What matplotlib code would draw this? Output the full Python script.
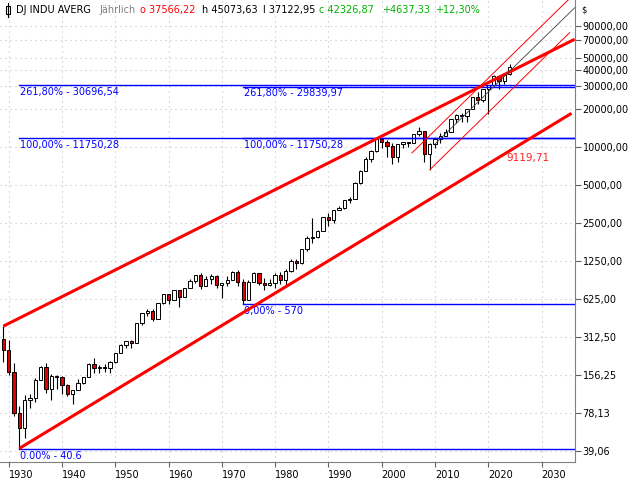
"""
DJ INDU AVERG yearly candles on a log price axis, with fib levels and trend channels
"""
import matplotlib.pyplot as plt
from matplotlib.patches import Rectangle
from matplotlib.lines import Line2D
import numpy as np

# yearly OHLC
years = list(range(1929, 2025))
closes = [248.48, 164.58, 77.90, 59.93, 99.90, 104.04, 144.13, 179.90, 120.85, 154.76,
          150.24, 131.13, 110.96, 119.40, 135.89, 152.32, 192.91, 177.20, 181.16, 177.30,
          200.13, 235.41, 269.23, 291.90, 280.90, 404.39, 488.40, 499.47, 435.69, 583.65,
          679.36, 615.89, 731.14, 652.10, 762.95, 874.13, 969.26, 785.69, 905.11, 943.75,
          800.36, 838.92, 890.20, 1020.02, 850.86, 616.24, 852.41, 1004.65, 831.17, 805.01,
          838.74, 963.99, 875.00, 1046.54, 1258.64, 1211.57, 1546.67, 1895.95, 1938.83, 2168.57,
          2753.20, 2633.66, 3168.83, 3301.11, 3754.09, 3834.44, 5117.12, 6448.27, 7908.25, 9181.43,
          11497.12, 10786.85, 10021.50, 8341.63, 10453.92, 10783.01, 10717.50, 12463.15, 13264.82, 8776.39,
          10428.05, 11577.51, 12217.56, 13104.14, 16576.66, 17823.07, 17425.03, 19762.60, 24719.22, 23327.46,
          28538.44, 30606.48, 36338.30, 33147.25, 37689.54, 42326.87]
opens = [300.00] + closes[:-2] + [37566.22]
highs = [381.17, 294.07, 194.36, 88.78, 108.67, 110.74, 148.44, 184.90, 194.40, 158.41,
         155.92, 152.80, 133.59, 119.71, 145.82, 152.53, 195.82, 212.50, 186.85, 193.16,
         200.52, 235.47, 276.37, 292.00, 293.79, 404.39, 488.40, 521.05, 520.77, 583.65,
         679.36, 685.47, 734.91, 734.00, 767.21, 891.71, 969.26, 995.15, 943.08, 985.21,
         968.85, 842.00, 950.82, 1036.27, 1051.70, 891.66, 881.81, 1014.79, 1004.65, 907.74,
         897.61, 1000.17, 1024.05, 1070.55, 1287.20, 1286.64, 1553.10, 1955.57, 2722.42, 2183.50,
         2791.41, 2999.75, 3168.83, 3413.21, 3794.33, 3978.36, 5216.47, 6560.91, 8259.31, 9374.27,
         11568.77, 11750.28, 11337.92, 10635.25, 10453.92, 10854.54, 10940.55, 12510.57, 14198.10, 13279.54,
         10580.33, 11625.00, 12876.00, 13661.87, 16588.25, 18103.45, 18351.36, 19987.63, 24876.07, 26951.81,
         28701.66, 30637.47, 36565.73, 36952.65, 37778.85, 45073.63]
lows = [198.69, 157.51, 73.79, 40.60, 50.16, 85.51, 96.71, 143.11, 113.64, 98.95,
        121.44, 111.84, 106.34, 92.92, 119.26, 134.22, 151.35, 163.12, 163.21, 165.39,
        161.60, 196.81, 235.00, 256.35, 255.49, 279.87, 388.20, 462.35, 419.79, 435.00,
        574.46, 566.05, 610.25, 535.76, 646.79, 762.00, 840.59, 744.32, 786.41, 825.13,
        769.93, 631.16, 797.97, 889.15, 788.31, 570.00, 616.00, 852.00, 800.85, 742.12,
        796.67, 759.13, 824.01, 776.92, 1027.04, 1086.57, 1184.96, 1502.29, 1738.74, 1879.14,
        2144.64, 2365.10, 2470.30, 3136.58, 3241.95, 3593.35, 3832.08, 5032.94, 6391.69, 7539.07,
        9120.67, 9796.03, 8235.81, 7286.27, 7524.06, 9749.99, 10012.36, 10667.39, 12050.41, 7552.29,
        6547.05, 9686.48, 10655.30, 12101.46, 13104.14, 15372.80, 15666.44, 15660.18, 19732.40, 21792.20,
        22638.41, 18213.65, 29982.62, 28725.51, 31429.82, 37122.95]

# fibonacci retracements (start year, levels, labels)
fib1_start = 1932
fib1_levels = [40.6, 11750.28, 30696.54]
fib1_labels = ['0.00% - 40.6', '100,00% - 11750,28', '261,80% - 30696,54']
fib2_start = 1974
fib2_levels = [570, 11750.28, 29839.97]
fib2_labels = ['0,00% - 570', '100,00% - 11750,28', '261,80% - 29839,97']

# trend lines as (year, price) anchors
upper_trend = [(1929, 381.17), (2036.2, 70500)]
lower_trend = [(1932, 41.22), (2035.6, 18320)]
chan_low = [(2009, 6547.05), (2035.3, 79900)]
chan_high = [(2005.6, 8850), (2036.2, 162000)]
chan_mid = [(2010.0, 10500), (2036.2, 125000)]
lower_trend_value = 9119.71

yticks = [39.06, 78.13, 156.25, 312.50, 625, 1250, 2500, 5000, 10000, 20000,
          30000, 40000, 50000, 70000, 90000]
xticks = list(range(1930, 2031, 10))

plt.rcParams['font.family'] = 'DejaVu Sans'
fig = plt.figure(figsize=(6.4, 4.8), dpi=100, facecolor='white')
ax = fig.add_axes([0, 18 / 480, 575 / 640, 462 / 480])
ax.set_yscale('log')
ax.set_xlim(1928.38, 2036.26)
ax.set_ylim(32.2, 144000)

# grid
for yv in yticks:
    ax.axhline(yv, color='#c0c0c0', lw=0.8, ls=(0, (1, 3.5)), zorder=0)
for xv in xticks:
    ax.axvline(xv, color='#c0c0c0', lw=0.8, ls=(0, (1, 3.5)), zorder=0)

# candles
for yr, o, h, l, c in zip(years, opens, highs, lows, closes):
    hi = max(h, o, c)
    lo = min(l, o, c)
    ax.vlines(yr, lo, hi, color='black', lw=0.8, zorder=3)
    fc = 'white' if c >= o else '#e00000'
    ax.bar(yr, abs(c - o), bottom=min(o, c), width=0.62, facecolor=fc,
           edgecolor='black', lw=0.7, zorder=4)

# fib levels
for start, levels, labels in [(fib1_start, fib1_levels, fib1_labels),
                              (fib2_start, fib2_levels, fib2_labels)]:
    for lv, lab in zip(levels, labels):
        ax.plot([start, 2036.26], [lv, lv], color='#0000ff', lw=1.0, zorder=5)
        ax.annotate(lab, xy=(start, lv), xytext=(0.5, -5), textcoords='offset points',
                    ha='left', va='center', fontsize=7, color='#0000ff')

# trend lines
for pts, lw in [(upper_trend, 2.2), (lower_trend, 2.2), (chan_low, 0.7), (chan_high, 0.7)]:
    xs, ys = zip(*pts)
    ax.plot(xs, ys, color='#ff0000', lw=lw, zorder=6, solid_capstyle='butt')
xs, ys = zip(*chan_mid)
ax.plot(xs, ys, color='#404040', lw=0.6, zorder=6)
ax.text(2023.4, 8130, f'{lower_trend_value:.2f}'.replace('.', ','), color='#ff2020',
        fontsize=7.5, ha='left', va='center')

# axes styling
for side in ['top', 'left']:
    ax.spines[side].set_visible(False)
ax.spines['right'].set_color('#808080')
ax.spines['bottom'].set_color('#808080')
ax.yaxis.tick_right()
ax.set_yticks(yticks)
ax.set_yticklabels([f'{v:.2f}'.replace('.', ',') for v in yticks])
ax.minorticks_off()
ax.set_xticks(xticks)
ax.set_xticklabels([str(v) for v in xticks])
for lab in ax.get_xticklabels():
    lab.set_ha('left')
ax.tick_params(axis='y', direction='out', length=4, width=0.8, color='#606060',
               pad=1.5, labelsize=7)
ax.tick_params(axis='x', direction='out', length=3.5, width=0.8, color='#606060',
               pad=2, labelsize=7)

# header
fig.patches.append(Rectangle((6 / 640, 1 - 14 / 480), 4 / 640, 8 / 480, transform=fig.transFigure,
                             facecolor='white', edgecolor='black', lw=0.8))
fig.lines.append(Line2D([8 / 640, 8 / 640], [1 - 17 / 480, 1 - 3 / 480],
                        transform=fig.transFigure, color='black', lw=0.8))
hy = 1 - 10 / 480
header = [(16, 'DJ INDU AVERG', 'black'), (99, 'Jährlich', '#808080'),
          (140, 'o 37566,22', '#ff0000'), (202, 'h 45073,63', 'black'),
          (263, 'l 37122,95', 'black'), (319, 'c 42326,87', '#00b000'),
          (382, '+4637,33', '#00b000'), (435, '+12,30%', '#00b000')]
for x, txt, col in header:
    fig.text(x / 640, hy, txt, color=col, fontsize=7, ha='left', va='center')
fig.text(581 / 640, hy, '$', fontsize=6, ha='left', va='center')

fig.savefig('out.png', dpi=100, facecolor='white')
